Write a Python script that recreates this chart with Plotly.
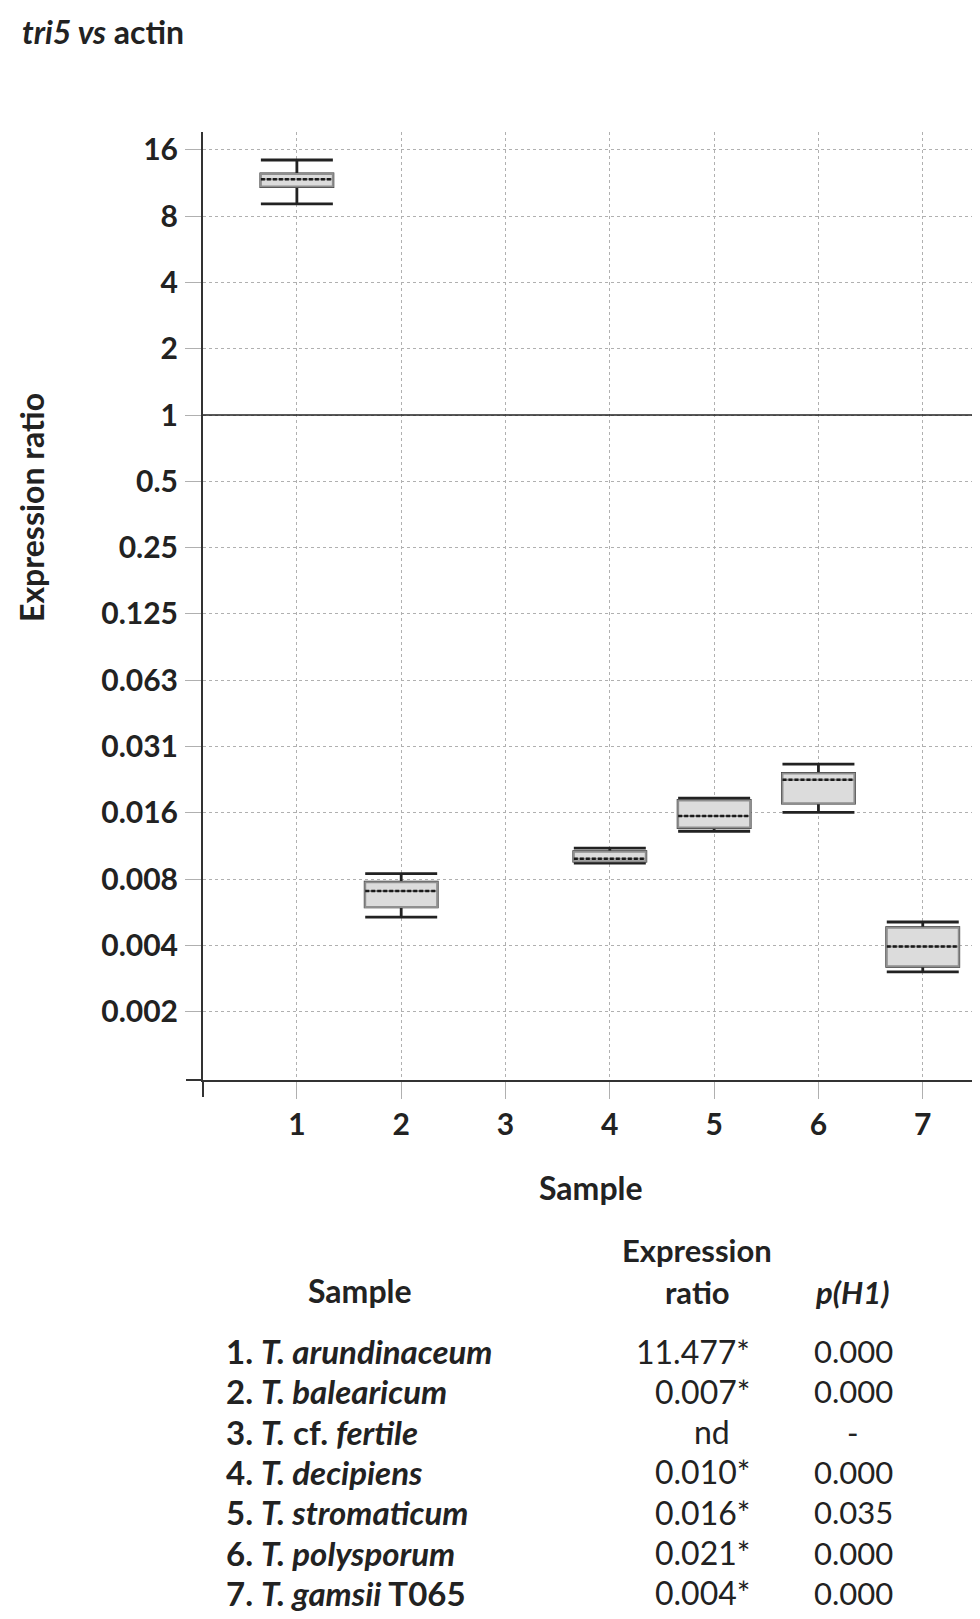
import math
import plotly.graph_objects as go

# tri5 vs actin —— 各样本箱线图统计量 (样本3未检出: nd)
samples = [1, 2, 3, 4, 5, 6, 7]
box_x = [1, 2, 4, 5, 6, 7]
lower_whisker = [9.1, 0.00525, 0.00923, 0.01289, 0.01571, 0.00296]
q1_vals = [10.9, 0.00584, 0.00943, 0.0134, 0.01729, 0.00314]
median_vals = [11.78, 0.0069, 0.00967, 0.0151, 0.0221, 0.00386]
q3_vals = [12.45, 0.00756, 0.0104, 0.01778, 0.0236, 0.0047]
upper_whisker = [14.4, 0.00828, 0.0108, 0.0182, 0.026, 0.00499]

# y轴刻度 (log2)
y_tick_vals = [2.0 ** k for k in range(4, -10, -1)]
y_tick_text = ['16', '8', '4', '2', '1', '0.5', '0.25', '0.125', '0.063',
               '0.031', '0.016', '0.008', '0.004', '0.002']

# 下方表格
table_names = ['<b>1. <i>T. arundinaceum</i></b>',
               '<b>2. <i>T. balearicum</i></b>',
               '<b>3. <i>T.</i> cf. <i>fertile</i></b>',
               '<b>4. <i>T. decipiens</i></b>',
               '<b>5. <i>T. stromaticum</i></b>',
               '<b>6. <i>T. polysporum</i></b>',
               '<b>7. <i>T. gamsii</i> T065</b>']
table_ratio = ['11.477*', '0.007*', 'nd', '0.010*', '0.016*', '0.021*', '0.004*']
table_p = ['0.000', '0.000', '-', '0.000', '0.035', '0.000', '0.000']

# 版面 (像素)
W, H = 980, 1619
L, R, T, B = 195, 11, 124, 547
PW, PH = W - L - R, H - T - B
BOX_W = 0.69
TXT = '#222222'
GRID = '#b0b0b0'
FONT = 'Lato'


def px_x(px):
    return (px - L) / PW


def px_y(py):
    return (H - B - py) / PH


fig = go.Figure()

# 须线 (黑色)
fig.add_trace(go.Box(x=box_x, q1=q1_vals, median=median_vals, q3=q3_vals,
                     lowerfence=lower_whisker, upperfence=upper_whisker,
                     width=BOX_W, whiskerwidth=1, fillcolor='#dcdcdc',
                     line=dict(color='#222222', width=2.8), hoverinfo='skip'))
# 箱体 (灰色边框)
fig.add_trace(go.Box(x=box_x, q1=q1_vals, median=median_vals, q3=q3_vals,
                     lowerfence=q1_vals, upperfence=q3_vals,
                     width=BOX_W, whiskerwidth=1, fillcolor='#dcdcdc',
                     line=dict(color='#8f8f8f', width=2), hoverinfo='skip'))

# 中位数虚线
mx, my = [], []
for xv, m in zip(box_x, median_vals):
    mx += [xv - BOX_W / 2, xv + BOX_W / 2, None]
    my += [m, m, None]
fig.add_trace(go.Scatter(x=mx, y=my, mode='lines', hoverinfo='skip',
                         line=dict(color='#1a1a1a', width=2.5, dash='4px,2px')))

# y=1 实线
fig.add_shape(type='line', xref='paper', x0=0, x1=1, yref='y', y0=1, y1=1,
              line=dict(color='#222222', width=1.6))
# 坐标轴延伸
fig.add_shape(type='line', xref='paper', yref='paper', x0=px_x(178), x1=0, y0=0, y1=0,
              line=dict(color='#333333', width=2))
fig.add_shape(type='line', xref='paper', yref='paper', x0=0, x1=0, y0=px_y(1089), y1=0,
              line=dict(color='#333333', width=2))

ann = []
ann.append(dict(text='<b><i>tri5 vs</i> actin</b>', x=px_x(12), y=px_y(23),
                xanchor='left', yanchor='middle', font=dict(size=32)))
ann.append(dict(text='<b>Expression ratio</b>', x=px_x(23), y=px_y(500), textangle=-90,
                xanchor='center', yanchor='middle', font=dict(size=32)))
ann.append(dict(text='<b>Sample</b>', x=px_x(583), y=px_y(1179),
                xanchor='center', yanchor='middle', font=dict(size=32)))
# 表头
ann.append(dict(text='<b>Sample</b>', x=px_x(352), y=px_y(1282),
                xanchor='center', yanchor='middle', font=dict(size=32)))
ann.append(dict(text='<b>Expression</b>', x=px_x(689), y=px_y(1242),
                xanchor='center', yanchor='middle', font=dict(size=31)))
ann.append(dict(text='<b>ratio</b>', x=px_x(689), y=px_y(1284),
                xanchor='center', yanchor='middle', font=dict(size=31)))
ann.append(dict(text='<b><i>p(H1)</i></b>', x=px_x(844), y=px_y(1284),
                xanchor='center', yanchor='middle', font=dict(size=31)))

for i, (name, ratio, p) in enumerate(zip(table_names, table_ratio, table_p)):
    ypx = 1343 + i * 40.3
    ann.append(dict(text=name, x=px_x(216), y=px_y(ypx), xanchor='left',
                    yanchor='middle', font=dict(size=33)))
    if ratio.endswith('*'):
        ann.append(dict(text=ratio, x=px_x(744), y=px_y(ypx), xanchor='right',
                        yanchor='middle', font=dict(size=32)))
    else:
        ann.append(dict(text=ratio, x=px_x(704), y=px_y(ypx), xanchor='center',
                        yanchor='middle', font=dict(size=32)))
    ann.append(dict(text=p, x=px_x(845), y=px_y(ypx), xanchor='center',
                    yanchor='middle', font=dict(size=31)))

for a in ann:
    a.update(xref='paper', yref='paper', showarrow=False)

fig.update_layout(
    width=W, height=H,
    margin=dict(l=L, r=R, t=T, b=B),
    showlegend=False,
    boxmode='overlay',
    plot_bgcolor='white', paper_bgcolor='white',
    font=dict(family=FONT, color=TXT),
    annotations=ann,
    xaxis=dict(range=[0.1, 7.52], tickvals=samples, ticktext=[str(s) for s in samples],
               showgrid=True, gridcolor=GRID, griddash='dot', gridwidth=1,
               zeroline=False, showline=True, linecolor='#333333', linewidth=2,
               ticks='outside', ticklen=17, tickcolor=GRID, tickwidth=1,
               ticklabelstandoff=0,
               tickfont=dict(family=FONT, size=30, color=TXT, weight='bold')),
    yaxis=dict(type='log', range=[math.log10(2 ** -10.03), math.log10(2 ** 4.27)],
               tickvals=y_tick_vals, ticktext=y_tick_text,
               showgrid=True, gridcolor=GRID, griddash='dot', gridwidth=1,
               zeroline=False, showline=True, linecolor='#333333', linewidth=2,
               ticks='outside', ticklen=16, tickcolor=GRID, tickwidth=1,
               ticklabelstandoff=1,
               tickfont=dict(family=FONT, size=30, color=TXT, weight='bold')),
)

fig.write_html('out.html')
